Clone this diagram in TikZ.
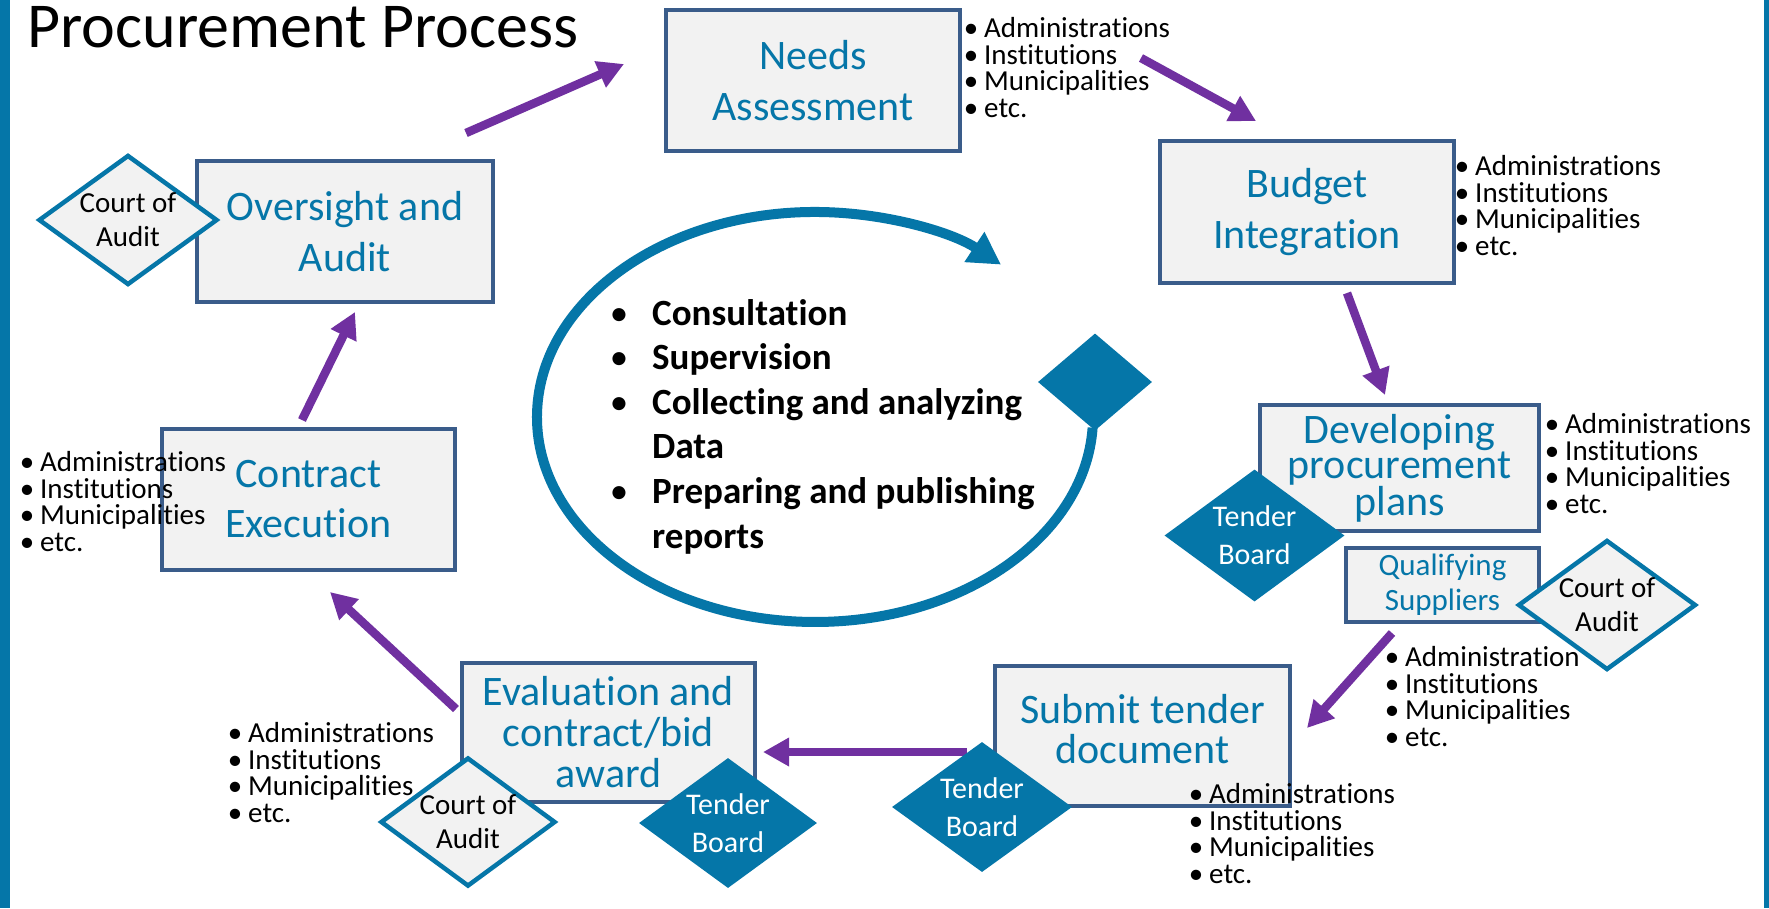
\documentclass[tikz,border=0pt]{standalone}
\usepackage{fontspec}
\setmainfont{Carlito}[Ligatures={NoCommon}]
\usetikzlibrary{shapes.geometric,arrows.meta}
\definecolor{teal}{RGB}{5,118,168}
\definecolor{boxblue}{RGB}{58,92,138}
\definecolor{boxfill}{RGB}{242,242,242}
\definecolor{purp}{RGB}{112,48,160}
\newcommand{\bu}{\llap{\textbullet\hspace{6pt}}}
\newcommand{\bub}{\llap{{\mdseries\textbullet}\hspace{24pt}}}
\tikzset{
  box/.style={draw=boxblue, line width=4pt, fill=boxfill, text=teal, inner sep=0pt, align=center},
  coa/.style={diamond, draw=teal, line width=4.5pt, fill=boxfill, inner sep=0pt, align=center,
    font=\fontsize{29}{34}\selectfont, text=black},
  tb/.style={diamond, fill=teal, inner sep=0pt, align=center,
    font=\fontsize{30}{38}\selectfont, text=white},
  flow/.style={draw=purp, line width=8.5pt, -{Triangle[length=26pt,width=27pt]}},
  blist/.style={anchor=base west, inner sep=0pt, align=left, font=\fontsize{29}{26.5}\selectfont}
}
\begin{document}
\begin{tikzpicture}[x=1pt,y=-1pt]
\useasboundingbox (0,0) rectangle (1769,908);
\fill[white] (0,0) rectangle (1769,908);
\fill[teal] (0,0) rectangle (10,908);
\fill[teal] (1764,0) rectangle (1769,908);

\node[anchor=base west, inner sep=0pt, font=\fontsize{64}{72}\selectfont] (title) at (27,47) {Procurement Process};

% boxes
\node[box, minimum width=294pt, minimum height=141pt, font=\fontsize{42}{51}\selectfont] (needs) at (813,80.5) {Needs\\Assessment};
\node[box, minimum width=296pt, minimum height=141pt, font=\fontsize{42}{51}\selectfont] (over) at (345,231.5) {Oversight and\\Audit};
\node[box, minimum width=294pt, minimum height=142pt, font=\fontsize{42}{51}\selectfont] (budget) at (1307,212) {Budget\\Integration};
\node[box, minimum width=279pt, minimum height=126pt, font=\fontsize{42}{33}\selectfont] (dev) at (1399.5,468) {Developing\\procurement\\plans};
\node[box, minimum width=193pt, minimum height=74pt, font=\fontsize{31}{35}\selectfont] (qual) at (1442.5,585) {Qualifying\\Suppliers};
\node[box, minimum width=295pt, minimum height=140pt, font=\fontsize{42}{40}\selectfont, text depth=14pt] (submit) at (1142.5,736) {Submit tender\\document};
\node[box, minimum width=293pt, minimum height=139pt, font=\fontsize{42}{41}\selectfont] (eval) at (608.5,732.5) {Evaluation and\\contract/bid\\award};
\node[box, minimum width=293pt, minimum height=141pt, font=\fontsize{42}{50}\selectfont] (contract) at (308.5,499.5) {Contract\\Execution};

% arrows
\coordinate (a1s) at (466,133); \coordinate (a1e) at (624,64);
\coordinate (a2s) at (1141,58); \coordinate (a2e) at (1256,121);
\coordinate (a3s) at (1347,293); \coordinate (a3e) at (1385,395);
\coordinate (a4s) at (1392,633); \coordinate (a4e) at (1307,728);
\coordinate (a5s) at (967,752); \coordinate (a5e) at (763,752);
\coordinate (a6s) at (456,709); \coordinate (a6e) at (330,592);
\coordinate (a7s) at (302,420); \coordinate (a7e) at (355,312);
\draw[flow] (a1s) -- (a1e);
\draw[flow] (a2s) -- (a2e);
\draw[flow] (a3s) -- (a3e);
\draw[flow] (a4s) -- (a4e);
\draw[flow] (a5s) -- (a5e);
\draw[flow] (a6s) -- (a6e);
\draw[flow] (a7s) -- (a7e);

% central cycle
\draw[teal, line width=10pt, -{Triangle[length=32pt,width=34pt]}]
  (1092.6,427.7) arc[start angle=3, end angle=312, x radius=278, y radius=205];
\node[diamond, fill=teal, inner sep=0pt, minimum width=114pt, minimum height=97pt, shape aspect=1.18] (hub) at (1095,382) {};
\node[anchor=base west, inner sep=0pt, align=left, font=\fontsize{37}{44.6}\selectfont\bfseries] (tasks) at (652,548)
  {\bub Consultation\\\bub Supervision\\\bub Collecting and analyzing\\Data\\\bub Preparing and publishing\\reports};

% bullet lists (base = last line)
\node[blist] (l1) at (984,117) {\bu Administrations\\\bu Institutions\\\bu Municipalities\\\bu etc.};
\node[blist] (l2) at (1475,255) {\bu Administrations\\\bu Institutions\\\bu Municipalities\\\bu etc.};
\node[blist] (l3) at (1565,513) {\bu Administrations\\\bu Institutions\\\bu Municipalities\\\bu etc.};
\node[blist] (l5) at (1209,883) {\bu Administrations\\\bu Institutions\\\bu Municipalities\\\bu etc.};
\node[blist] (l6) at (40,551) {\bu Administrations\\\bu Institutions\\\bu Municipalities\\\bu etc.};
\node[blist] (l7) at (248,822) {\bu Administrations\\\bu Institutions\\\bu Municipalities\\\bu etc.};

% diamonds
\node[coa, minimum width=179pt, minimum height=130pt, shape aspect=1.38] (coa1) at (128,220) {Court of\\Audit};
\node[tb, minimum width=180pt, minimum height=132pt, shape aspect=1.36] (tb1) at (1254.5,535.5) {Tender\\Board};
\node[coa, minimum width=178pt, minimum height=130pt, shape aspect=1.37] (coa2) at (1607,605) {Court of\\Audit};
\node[coa, minimum width=175pt, minimum height=129pt, shape aspect=1.36] (coa3) at (468,822) {Court of\\Audit};
\node[tb, minimum width=178pt, minimum height=130pt, shape aspect=1.37] (tb2) at (728,823) {Tender\\Board};
\node[tb, minimum width=180pt, minimum height=130pt, shape aspect=1.38] (tb3) at (982,807) {Tender\\Board};

\node[blist] (l4) at (1405,746) {\bu Administration\\\bu Institutions\\\bu Municipalities\\\bu etc.};
\end{tikzpicture}
\end{document}
